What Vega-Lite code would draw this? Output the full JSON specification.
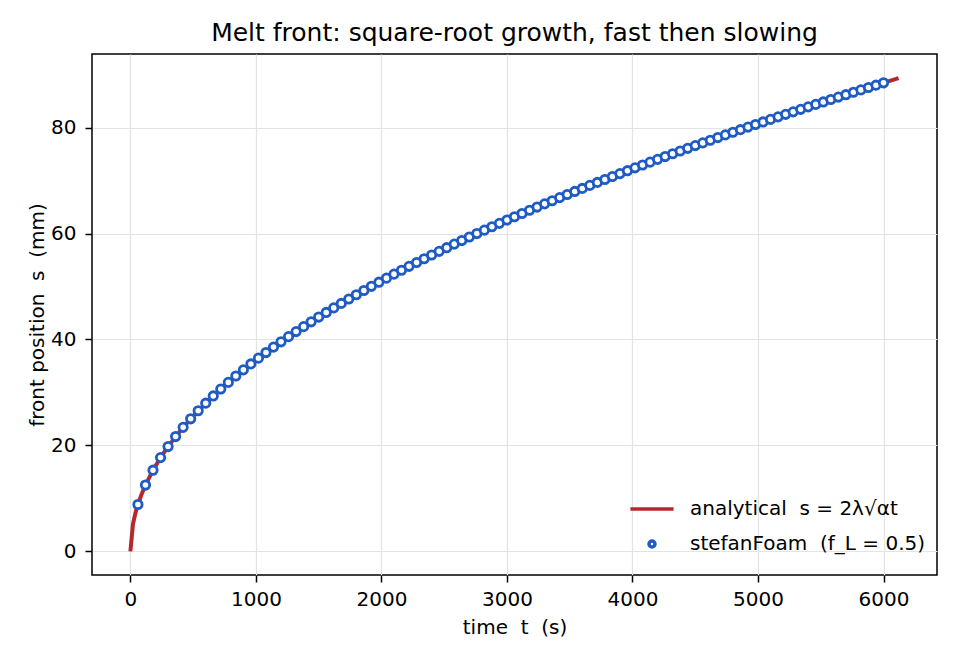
{
  "$schema": "https://vega.github.io/schema/vega-lite/v6.json",
  "width": 845,
  "height": 521,
  "autosize": {"type": "none"},
  "padding": {"left": 92, "top": 54, "right": 23, "bottom": 85},
  "background": "white",
  "title": {
    "text": "Melt front: square-root growth, fast then slowing",
    "font": "DejaVu Sans",
    "fontSize": 25,
    "fontWeight": "normal",
    "color": "black",
    "offset": 8
  },
  "datasets": {
    "analytical": [
      {"t": 0, "s": 0}, {"t": 20, "s": 5.107}, {"t": 40, "s": 7.223}, {"t": 60, "s": 8.846},
      {"t": 90, "s": 10.834}, {"t": 120, "s": 12.51}, {"t": 180, "s": 15.321}, {"t": 240, "s": 17.692},
      {"t": 300, "s": 19.78}, {"t": 420, "s": 23.404}, {"t": 540, "s": 26.538}, {"t": 660, "s": 29.338},
      {"t": 780, "s": 31.894}, {"t": 900, "s": 34.26}, {"t": 1080, "s": 37.53}, {"t": 1260, "s": 40.536},
      {"t": 1500, "s": 44.23}, {"t": 1800, "s": 48.451}, {"t": 2100, "s": 52.333}, {"t": 2400, "s": 55.946},
      {"t": 2700, "s": 59.341}, {"t": 3000, "s": 62.55}, {"t": 3300, "s": 65.603}, {"t": 3600, "s": 68.52},
      {"t": 3900, "s": 71.318}, {"t": 4200, "s": 74.01}, {"t": 4500, "s": 76.608}, {"t": 4800, "s": 79.12},
      {"t": 5100, "s": 81.555}, {"t": 5400, "s": 83.92}, {"t": 5700, "s": 86.219}, {"t": 6000, "s": 88.459},
      {"t": 6120, "s": 89.339}
    ],
    "foam": [
      {"t": 60, "s": 8.846}, {"t": 120, "s": 12.51}, {"t": 180, "s": 15.321}, {"t": 240, "s": 17.692},
      {"t": 300, "s": 19.78}, {"t": 360, "s": 21.668}, {"t": 420, "s": 23.404}, {"t": 480, "s": 25.02},
      {"t": 540, "s": 26.538}, {"t": 600, "s": 27.973}, {"t": 660, "s": 29.338}, {"t": 720, "s": 30.643},
      {"t": 780, "s": 31.894}, {"t": 840, "s": 33.099}, {"t": 900, "s": 34.26}, {"t": 960, "s": 35.384},
      {"t": 1020, "s": 36.472}, {"t": 1080, "s": 37.53}, {"t": 1140, "s": 38.559}, {"t": 1200, "s": 39.56},
      {"t": 1260, "s": 40.536}, {"t": 1320, "s": 41.491}, {"t": 1380, "s": 42.423}, {"t": 1440, "s": 43.335},
      {"t": 1500, "s": 44.23}, {"t": 1560, "s": 45.106}, {"t": 1620, "s": 45.964}, {"t": 1680, "s": 46.808},
      {"t": 1740, "s": 47.636}, {"t": 1800, "s": 48.451}, {"t": 1860, "s": 49.252}, {"t": 1920, "s": 50.04},
      {"t": 1980, "s": 50.816}, {"t": 2040, "s": 51.58}, {"t": 2100, "s": 52.333}, {"t": 2160, "s": 53.076},
      {"t": 2220, "s": 53.808}, {"t": 2280, "s": 54.529}, {"t": 2340, "s": 55.243}, {"t": 2400, "s": 55.946},
      {"t": 2460, "s": 56.641}, {"t": 2520, "s": 57.328}, {"t": 2580, "s": 58.007}, {"t": 2640, "s": 58.677},
      {"t": 2700, "s": 59.341}, {"t": 2760, "s": 59.996}, {"t": 2820, "s": 60.645}, {"t": 2880, "s": 61.287},
      {"t": 2940, "s": 61.922}, {"t": 3000, "s": 62.55}, {"t": 3060, "s": 63.172}, {"t": 3120, "s": 63.789},
      {"t": 3180, "s": 64.399}, {"t": 3240, "s": 65.004}, {"t": 3300, "s": 65.603}, {"t": 3360, "s": 66.197},
      {"t": 3420, "s": 66.785}, {"t": 3480, "s": 67.369}, {"t": 3540, "s": 67.947}, {"t": 3600, "s": 68.52},
      {"t": 3660, "s": 69.089}, {"t": 3720, "s": 69.653}, {"t": 3780, "s": 70.212}, {"t": 3840, "s": 70.767},
      {"t": 3900, "s": 71.318}, {"t": 3960, "s": 71.865}, {"t": 4020, "s": 72.406}, {"t": 4080, "s": 72.945},
      {"t": 4140, "s": 73.48}, {"t": 4200, "s": 74.01}, {"t": 4260, "s": 74.537}, {"t": 4320, "s": 75.06},
      {"t": 4380, "s": 75.58}, {"t": 4440, "s": 76.095}, {"t": 4500, "s": 76.608}, {"t": 4560, "s": 77.117},
      {"t": 4620, "s": 77.623}, {"t": 4680, "s": 78.125}, {"t": 4740, "s": 78.624}, {"t": 4800, "s": 79.12},
      {"t": 4860, "s": 79.613}, {"t": 4920, "s": 80.103}, {"t": 4980, "s": 80.59}, {"t": 5040, "s": 81.074},
      {"t": 5100, "s": 81.555}, {"t": 5160, "s": 82.033}, {"t": 5220, "s": 82.51}, {"t": 5280, "s": 82.982},
      {"t": 5340, "s": 83.452}, {"t": 5400, "s": 83.92}, {"t": 5460, "s": 84.385}, {"t": 5520, "s": 84.847},
      {"t": 5580, "s": 85.306}, {"t": 5640, "s": 85.764}, {"t": 5700, "s": 86.219}, {"t": 5760, "s": 86.672},
      {"t": 5820, "s": 87.122}, {"t": 5880, "s": 87.57}, {"t": 5940, "s": 88.015}, {"t": 6000, "s": 88.459}
    ]
  },
  "encoding": {
    "x": {
      "field": "t",
      "type": "quantitative",
      "title": "time\u00a0\u00a0t\u00a0\u00a0(s)",
      "scale": {"domain": [-306, 6426], "nice": false, "zero": false},
      "axis": {"values": [0, 1000, 2000, 3000, 4000, 5000, 6000], "format": "d"}
    },
    "y": {
      "field": "s",
      "type": "quantitative",
      "title": "front position\u00a0\u00a0s\u00a0\u00a0(mm)",
      "scale": {"domain": [-4.47, 93.9], "nice": false, "zero": false},
      "axis": {"values": [0, 20, 40, 60, 80], "format": "d"}
    },
    "color": {
      "field": "series",
      "type": "nominal",
      "scale": {
        "domain": ["analytical\u00a0\u00a0s = 2λ√αt", "stefanFoam\u00a0\u00a0(f_L = 0.5)"],
        "range": ["#b5292e", "#1f5bc4"]
      },
      "legend": {
        "title": null,
        "orient": "none",
        "legendX": 550,
        "legendY": 445,
        "symbolSize": 36,
        "symbolStrokeWidth": 3.5,
        "labelFont": "DejaVu Sans",
        "labelFontSize": 20,
        "labelColor": "black",
        "labelOffset": 28,
        "rowPadding": 15,
        "labelLimit": 500,
        "encode": {
          "symbols": {
            "update": {
              "fill": {"value": "white"},
              "stroke": {"scale": "color", "field": "value"},
              "strokeWidth": {"value": 3.5}
            }
          }
        }
      }
    }
  },
  "layer": [
    {
      "data": {"name": "analytical"},
      "transform": [{"calculate": "'analytical\u00a0\u00a0s = 2λ√αt'", "as": "series"}],
      "mark": {"type": "line", "strokeWidth": 4, "clip": true}
    },
    {
      "data": {"name": "foam"},
      "transform": [{"calculate": "'stefanFoam\u00a0\u00a0(f_L = 0.5)'", "as": "series"}],
      "mark": {"type": "point", "filled": false, "fill": "white", "fillOpacity": 1, "strokeWidth": 2.8, "size": 70, "opacity": 1},
      "encoding": {
        "shape": {
          "field": "series",
          "type": "nominal",
          "scale": {
            "domain": ["analytical\u00a0\u00a0s = 2λ√αt", "stefanFoam\u00a0\u00a0(f_L = 0.5)"],
            "range": ["M-7.2,0H7.2", "circle"]
          }
        }
      }
    }
  ],
  "config": {
    "font": "DejaVu Sans",
    "view": {"stroke": "black", "strokeWidth": 1.5},
    "axis": {
      "labelFont": "DejaVu Sans",
      "labelFontSize": 20,
      "labelColor": "black",
      "titleFont": "DejaVu Sans",
      "titleFontSize": 20,
      "titleFontWeight": "normal",
      "titleColor": "black",
      "domain": false,
      "tickColor": "black",
      "tickSize": 7,
      "tickWidth": 1.5,
      "gridColor": "#e3e3e3",
      "gridWidth": 1.2
    },
    "axisX": {"labelPadding": 7, "titlePadding": 8},
    "axisY": {"labelPadding": 9, "titlePadding": 3}
  }
}
